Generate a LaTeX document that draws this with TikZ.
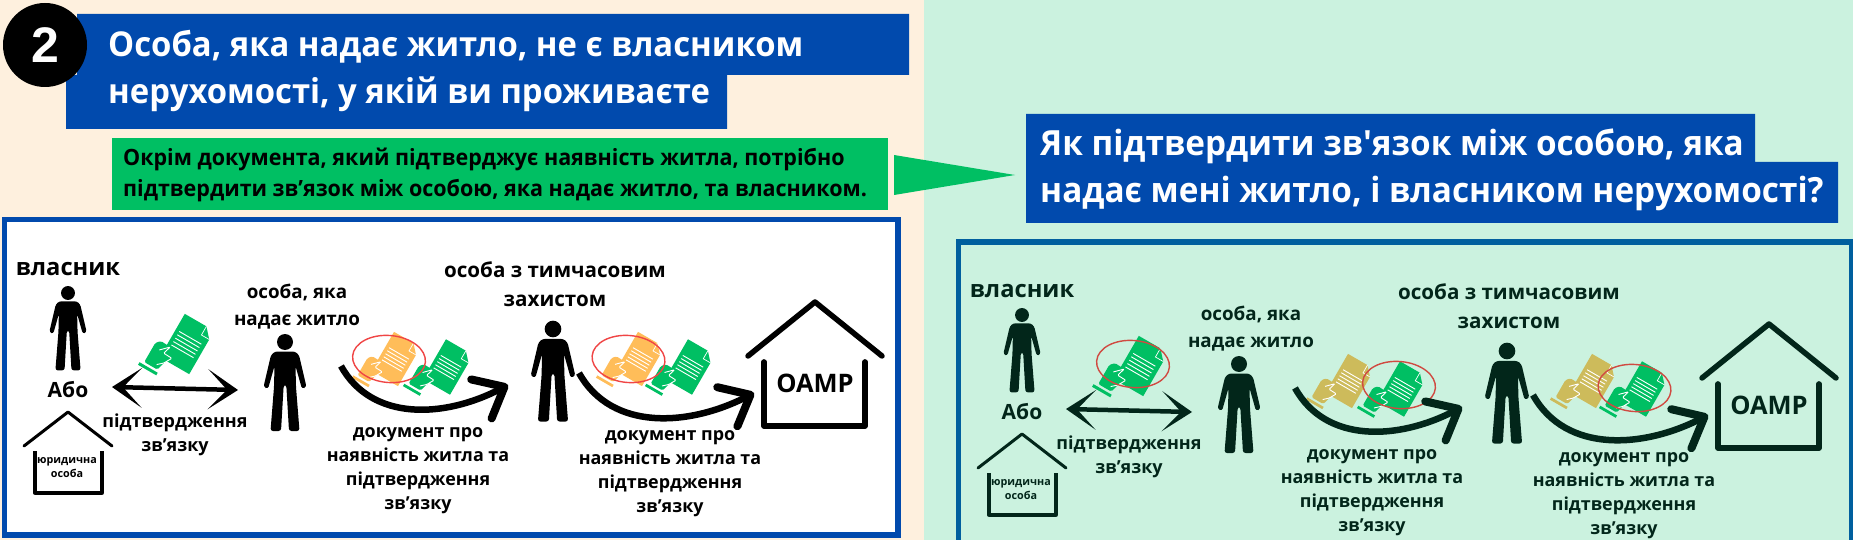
\documentclass[tikz,border=0pt]{standalone}
\usepackage{fontspec}
\setmainfont{Open Sans}
\newfontfamily\headfont[FakeStretch=.96]{Open Sans}
\newfontfamily\numfont{Liberation Sans}
\usetikzlibrary{arrows.meta}

\definecolor{creamback}{HTML}{FEF0DE}
\definecolor{mintback}{HTML}{CBF2DF}
\definecolor{headblue}{HTML}{014AAD}
\definecolor{frameblue}{HTML}{005F9E}
\definecolor{docgreen}{HTML}{00BF63}
\definecolor{docorange}{HTML}{FFBD59}
\definecolor{dockhaki}{HTML}{CDBB5B}
\definecolor{darkink}{HTML}{02261A}
\definecolor{ringred}{HTML}{F04545}
\definecolor{ringdull}{HTML}{D04A41}

\tikzset{
  pics/person/.style={code={
    \fill[panelink] (0,0) circle (8);
    \fill[panelink, rounded corners=2.5pt] (0,9.5) -- (10,9.5) -- (14,13) -- (21.5,45) -- (17,47)
      -- (10.5,24) -- (11,45) -- (14.5,89) -- (4,89) -- (1.3,43) -- (-1.3,43) -- (-4,89)
      -- (-14.5,89) -- (-11,45) -- (-10.5,24) -- (-17,47) -- (-21.5,45) -- (-14,13) -- (-10,9.5) -- cycle;
  }},
  pics/doc/.style={code={
    \fill[#1] (-17,-25) -- (8,-25) -- (17,-15) -- (17,25) -- (-17,25) -- cycle;
    \draw[white, line width=.7pt] (8,-25) -- (8,-15) -- (17,-15);
    \foreach \v in {-7,-3.1,0.8,4.7,8.6}
      \draw[white, line width=.9pt] (-13,\v) -- (12.5,\v);
    \fill[#1, rounded corners=1.5pt] (-28,37) -- (-28,15) -- (-24,10.5) -- (-13,11) -- (-15.6,19.6)
      -- (-6,20) -- (-10.5,28) -- (-13,37) -- cycle;
    \fill[#1] (-32,39.5) rectangle (-11,42.5);
    \draw[white, line width=.9pt, rounded corners=1pt] (-21,19) -- (-13,11) -- (-15.6,19.6)
      -- (-6,20) -- (-10.5,28) -- (-16,33);
  }},
}

\newcommand{\panel}[5]{
  \colorlet{panelink}{#2}
  \colorlet{panelproof}{#3}
  \colorlet{panelring}{#4}

  \node[lbl, font=\bfseries\fontsize{23.7}{32}\selectfont] (#1owner) at (68,276) {власник};
  \pic (#1ownerman) at (68,293) [scale=.87] {person};
  \node[lbl, font=\bfseries\fontsize{21}{26}\selectfont] (#1or) at (68,397) {Або};
  \coordinate (#1roofL) at (24,446);
  \coordinate (#1roofT) at (68,412);
  \coordinate (#1roofR) at (112,446);
  \draw[panelink, line width=3pt, line cap=round, line join=round] (#1roofL) -- (#1roofT) -- (#1roofR);
  \draw[panelink, line width=3.3pt, line join=round] (35,451) -- (35,493) -- (102,493) -- (102,451);
  \node[lbl, font=\bfseries\fontsize{10.8}{14}\selectfont] (#1legal) at (67,477) {юридична\\особа};

  \node[lbl, font=\bfseries\fontsize{18.8}{27}\selectfont] (#1host) at (297,325) {особа, яка\\надає житло};
  \pic (#1hostman) at (285,342) {person};
  \node[lbl, font=\bfseries\fontsize{18}{24}\selectfont] (#1proof) at (175,451) {підтвердження\\зв’язку};

  \node[lbl, font=\bfseries\fontsize{20.6}{29}\selectfont] (#1guest) at (555,306) {особа з тимчасовим\\захистом};
  \pic (#1guestman) at (553,329) [scale=1.04] {person};

  \pic (#1doca) at (187,344) [rotate=-30] {doc=docgreen};
  \pic (#1docb) at (396,359) [rotate=-30, scale=.9] {doc=panelproof};
  \pic (#1docc) at (448,367) [rotate=-30, scale=.92] {doc=docgreen};
  \pic (#1docd) at (640,359) [rotate=-30, scale=.9] {doc=panelproof};
  \pic (#1doce) at (690,367) [rotate=-30, scale=.92] {doc=docgreen};

  \foreach \rx/\ry in {#5}
    \draw[panelring, line width=1.4pt, shift={(\rx,\ry)}, rotate=-5] (0,0) ellipse (36.5 and 23.5);

  \coordinate (#1linkA) at (112,387);
  \coordinate (#1linkB) at (238,390);
  \draw[linkarrow] (#1linkA) -- (#1linkB);

  \coordinate (#1sendA) at (341,366);
  \coordinate (#1sendB) at (508,385);
  \draw[sendarrow] (#1sendA) .. controls (372,422) and (445,418) .. (#1sendB);
  \node[lbl, font=\bfseries\fontsize{17.9}{24}\selectfont] (#1paper) at (418,509) {документ про\\наявність житла та\\підтвердження\\зв’язку};

  \coordinate (#1sendC) at (579,373);
  \coordinate (#1sendD) at (754,393);
  \draw[sendarrow] (#1sendC) .. controls (612,432) and (690,426) .. (#1sendD);
  \node[lbl, font=\bfseries\fontsize{17.9}{24}\selectfont] (#1paperb) at (670,512) {документ про\\наявність житла та\\підтвердження\\зв’язку};

  \coordinate (#1bigL) at (748,356);
  \coordinate (#1bigT) at (815,302);
  \coordinate (#1bigR) at (882,356);
  \draw[panelink, line width=5.5pt, line cap=round, line join=round] (#1bigL) -- (#1bigT) -- (#1bigR);
  \draw[panelink, line width=5.7pt, line cap=round, line join=round] (764,362) -- (764,426) -- (865,426) -- (865,362);
  \node[lbl, font=\bfseries\fontsize{25.5}{30}\selectfont] (#1oamp) at (815,392) {OAMP};
}

\begin{document}
\begin{tikzpicture}[x=1pt, y=-1pt]
\tikzstyle{lbl}=[inner sep=0pt, align=center, anchor=base, text=panelink]
\tikzstyle{headtext}=[inner sep=0pt, anchor=base west, text=white, font=\headfont\bfseries\fontsize{34.2}{40}\selectfont]
\tikzstyle{asktext}=[inner sep=0pt, anchor=base west, text=white, font=\headfont\bfseries\fontsize{34.7}{40}\selectfont]
\tikzstyle{notetext}=[inner sep=0pt, anchor=base west, text=black, font=\headfont\bfseries\fontsize{22.4}{28}\selectfont]
\tikzstyle{linkarrow}=[panelink, line width=4.5pt, {Stealth[length=30pt, width=40pt, inset=19pt]}-{Stealth[length=30pt, width=40pt, inset=19pt]}]
\tikzstyle{sendarrow}=[panelink, line width=6.5pt, -{Straight Barb[length=26pt, width=44pt, line width=8pt, round]}]

\clip (0,0) rectangle (1853,540);
\fill[creamback] (0,0) rectangle (924,540);
\fill[mintback] (924,0) rectangle (1853,540);

\fill[headblue] (77,14) -- (909,14) -- (909,75) -- (727,75) -- (727,129) -- (66,129) -- (66,75) -- (77,75) -- cycle;
\node[circle, fill=black, inner sep=0pt, minimum size=84pt, text=white, font=\numfont\bfseries\fontsize{50}{50}\selectfont] (badge) at (45,45) {2};
\node[headtext] (headA) at (108,57) {Особа, яка надає житло, не є власником};
\node[headtext] (headB) at (108,104) {нерухомості, у якій ви проживаєте};

\fill[docgreen] (112,138) rectangle (888,210);
\node[notetext] (noteA) at (123,166) {Окрім документа, який підтверджує наявність житла, потрібно};
\node[notetext] (noteB) at (123,197) {підтвердити зв’язок між особою, яка надає житло, та власником.};

\coordinate (tipA) at (894,155);
\coordinate (tipB) at (1015,175);
\coordinate (tipC) at (894,195);
\fill[docgreen] (tipA) -- (tipB) -- (tipC) -- cycle;

\fill[headblue] (1026,114) -- (1755,114) -- (1755,162) -- (1838,162) -- (1838,223) -- (1026,223) -- cycle;
\node[asktext] (askA) at (1040,156) {Як підтвердити зв'язок між особою, яка};
\node[asktext] (askB) at (1040,203) {надає мені житло, і власником нерухомості?};

\draw[headblue, line width=5.5pt, fill=white] (4.5,219.5) rectangle (898,535);
\panel{l}{black}{docorange}{ringred}{389/359, 628.5/359}

\draw[frameblue, line width=5.5pt] (958.5,242) rectangle (1851.5,570);
\begin{scope}[shift={(954,22)}]
\panel{r}{darkink}{dockhaki}{ringdull}{179/342, 445/363, 680.5/366}
\end{scope}

\end{tikzpicture}
\end{document}
